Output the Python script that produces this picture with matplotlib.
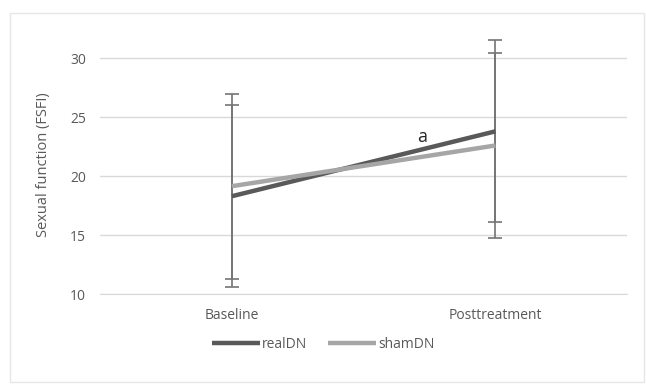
import matplotlib.pyplot as plt
from matplotlib.patches import Rectangle

categories = ["Baseline", "Posttreatment"]
real_dn = [18.3, 23.8]
real_sd = [7.7, 7.7]
sham_dn = [19.15, 22.6]
sham_sd = [7.85, 7.8]
y_ticks = [10, 15, 20, 25, 30]

plt.rcParams['font.family'] = ['Open Sans', 'DejaVu Sans']

fig = plt.figure(figsize=(6.46, 3.84), dpi=100)
ax = fig.add_axes([0.155, 0.234, 0.816, 0.676])

x = [0, 1]
ax.errorbar(x, real_dn, yerr=real_sd, fmt='none', ecolor='#747474',
            elinewidth=1.2, capsize=5, capthick=1.2, zorder=2)
ax.errorbar(x, sham_dn, yerr=sham_sd, fmt='none', ecolor='#747474',
            elinewidth=1.2, capsize=5, capthick=1.2, zorder=2)
ax.plot(x, real_dn, color='#595959', lw=3.2, label='realDN', zorder=3,
        solid_capstyle='butt')
ax.plot(x, sham_dn, color='#a6a6a6', lw=3.2, label='shamDN', zorder=3,
        solid_capstyle='butt')

ax.text(0.72, 23.3, "a", ha='center', va='center', fontsize=13, color='#262626')

ax.set_xlim(-0.5, 1.5)
ax.set_ylim(10, 32)
ax.set_yticks(y_ticks)
ax.set_xticks(x)
ax.set_xticklabels(categories)
ax.tick_params(axis='both', length=0, labelsize=10, colors='#595959', pad=10)
ax.grid(axis='y', color='#d9d9d9', lw=1)
ax.set_axisbelow(True)
for s in ['top', 'right', 'left']:
    ax.spines[s].set_visible(False)
ax.spines['bottom'].set_color('#d9d9d9')
ax.set_ylabel("Sexual function (FSFI)", fontsize=10.5, color='#595959', labelpad=14)

leg = fig.legend(loc='lower center', bbox_to_anchor=(0.5, 0.05), ncol=2,
                 frameon=False, fontsize=10, handlelength=3.5,
                 handletextpad=0.1, columnspacing=1.5)
for t in leg.get_texts():
    t.set_color('#595959')

fig.patches.append(Rectangle((10 / 646, 2 / 384), 634 / 646, 369 / 384,
                             transform=fig.transFigure, fill=False,
                             edgecolor='#e6e6e6', lw=1))

fig.savefig("out.png", dpi=100)
